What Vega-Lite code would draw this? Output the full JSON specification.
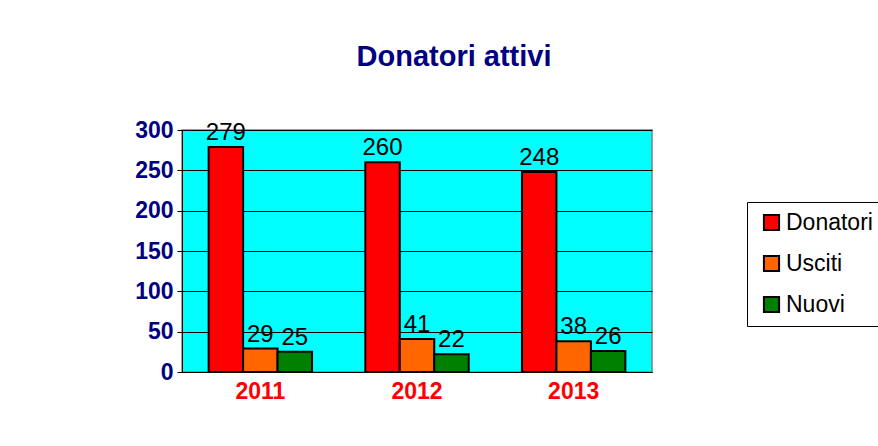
{
  "$schema": "https://vega.github.io/schema/vega-lite/v6.json",
  "width": 470,
  "height": 242,
  "autosize": "none",
  "padding": {"left": 182, "top": 130, "right": 226, "bottom": 74},
  "background": "white",
  "title": {
    "text": "Donatori attivi",
    "font": "Liberation Sans",
    "fontSize": 29,
    "fontWeight": "bold",
    "color": "#000080",
    "anchor": "middle",
    "dx": 37,
    "offset": 47
  },
  "data": {
    "values": [
      {"anno": "2011", "serie": "Donatori", "valore": 279},
      {"anno": "2011", "serie": "Usciti", "valore": 29},
      {"anno": "2011", "serie": "Nuovi", "valore": 25},
      {"anno": "2012", "serie": "Donatori", "valore": 260},
      {"anno": "2012", "serie": "Usciti", "valore": 41},
      {"anno": "2012", "serie": "Nuovi", "valore": 22},
      {"anno": "2013", "serie": "Donatori", "valore": 248},
      {"anno": "2013", "serie": "Usciti", "valore": 38},
      {"anno": "2013", "serie": "Nuovi", "valore": 26}
    ]
  },
  "config": {
    "view": {"fill": "#00FFFF", "stroke": "#808080", "strokeWidth": 1.5},
    "font": "Liberation Sans"
  },
  "encoding": {
    "x": {
      "field": "anno",
      "type": "nominal",
      "scale": {"paddingInner": 0.34, "paddingOuter": 0.17},
      "axis": {
        "title": null,
        "labelAngle": 0,
        "labelFont": "Liberation Sans",
        "labelFontSize": 23,
        "labelFontWeight": "bold",
        "labelColor": "#FF0000",
        "labelPadding": 8,
        "ticks": false,
        "domainColor": "#000000",
        "domainWidth": 1
      }
    },
    "xOffset": {"field": "serie", "type": "nominal", "sort": ["Donatori", "Usciti", "Nuovi"], "scale": {"paddingInner": 0}},
    "y": {
      "field": "valore",
      "type": "quantitative",
      "scale": {"domain": [0, 300]},
      "axis": {
        "title": null,
        "values": [0, 50, 100, 150, 200, 250, 300],
        "labelFont": "Liberation Sans",
        "labelFontSize": 23,
        "labelFontWeight": "bold",
        "labelColor": "#000080",
        "labelPadding": 4,
        "tickColor": "#000000",
        "tickSize": 5,
        "domainColor": "#000000",
        "grid": true,
        "gridColor": "#000000",
        "gridWidth": 1
      }
    }
  },
  "layer": [
    {
      "mark": {"type": "bar", "stroke": "#000000", "strokeWidth": 2},
      "encoding": {
        "color": {
          "field": "serie",
          "type": "nominal",
          "sort": ["Donatori", "Usciti", "Nuovi"],
          "scale": {"domain": ["Donatori", "Usciti", "Nuovi"], "range": ["#FF0000", "#FF6600", "#008000"]},
          "legend": {
            "title": null,
            "orient": "none",
            "legendX": 565,
            "legendY": 72,
            "direction": "vertical",
            "symbolType": "square",
            "symbolSize": 230,
            "symbolStrokeColor": "#000000",
            "symbolStrokeWidth": 2,
            "symbolOffset": 4,
            "labelFont": "Liberation Sans",
            "labelFontSize": 23,
            "labelColor": "#000000",
            "labelOffset": 3,
            "rowPadding": 16,
            "padding": 9,
            "strokeColor": "#000000",
            "fillColor": "#FFFFFF"
          }
        }
      }
    },
    {
      "mark": {"type": "text", "baseline": "bottom", "dy": -2, "font": "Liberation Sans", "fontSize": 24, "color": "#000000"},
      "encoding": {"text": {"field": "valore", "type": "quantitative"}}
    }
  ]
}
